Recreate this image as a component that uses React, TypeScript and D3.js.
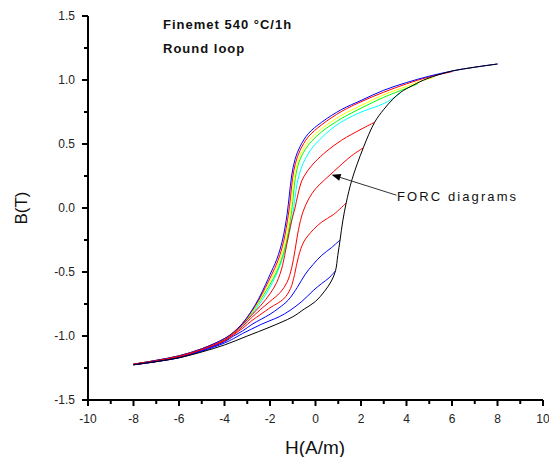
import React from 'react';
import * as d3 from 'd3';

type P = [number, number];

const xTicks = [-10, -8, -6, -4, -2, 0, 2, 4, 6, 8, 10];
const xMinor = [-9, -7, -5, -3, -1, 1, 3, 5, 7, 9];
const yTicks = [-1.5, -1.0, -0.5, 0.0, 0.5, 1.0, 1.5];
const yMinor = [-1.25, -0.75, -0.25, 0.25, 0.75, 1.25];

// descending major branch (outer)
const outerBlue: P[] = [[-8,-1.22],[-7,-1.19],[-6,-1.155],[-5,-1.10],[-4,-1.02],[-3.6,-0.97],[-3.2,-0.90],[-2.8,-0.80],[-2.5,-0.71],[-2.2,-0.60],[-2.0,-0.52],[-1.7,-0.40],[-1.45,-0.25],[-1.25,-0.05],[-1.15,0.1],[-1.05,0.25],[-0.9,0.38],[-0.68,0.48],[-0.32,0.58],[0.27,0.67],[1.15,0.77],[2,0.84],[3,0.92],[4,0.98],[5,1.03],[6,1.07],[7,1.10],[8,1.125]];
const curveRed6: P[] = [[-8,-1.22],[-7,-1.19],[-6,-1.155],[-5,-1.10],[-4,-1.02],[-3.6,-0.97],[-3.2,-0.90],[-2.8,-0.805],[-2.5,-0.72],[-2.2,-0.62],[-1.95,-0.53],[-1.65,-0.41],[-1.4,-0.26],[-1.2,-0.06],[-1.1,0.08],[-1.01,0.23],[-0.88,0.35],[-0.68,0.45],[-0.32,0.555],[0.27,0.65],[1.15,0.755],[2,0.83],[3,0.905],[4,0.97],[5,1.025],[6,1.065]];
const curveYellow: P[] = [[-8,-1.22],[-7,-1.19],[-6,-1.155],[-5,-1.10],[-4,-1.02],[-3.6,-0.97],[-3.2,-0.90],[-2.8,-0.815],[-2.5,-0.73],[-2.2,-0.64],[-1.9,-0.54],[-1.6,-0.42],[-1.35,-0.27],[-1.15,-0.08],[-1.05,0.06],[-0.97,0.2],[-0.86,0.31],[-0.68,0.41],[-0.32,0.52],[0.27,0.62],[1.15,0.725],[2,0.80],[3,0.885],[4,0.95],[4.6,0.99],[5.2,1.02]];
const curveGreen: P[] = [[-8,-1.22],[-7,-1.19],[-6,-1.155],[-5,-1.10],[-4,-1.025],[-3.6,-0.975],[-3.2,-0.905],[-2.8,-0.82],[-2.5,-0.74],[-2.2,-0.655],[-1.85,-0.55],[-1.55,-0.43],[-1.3,-0.28],[-1.1,-0.09],[-1.0,0.05],[-0.93,0.18],[-0.83,0.29],[-0.68,0.38],[-0.32,0.49],[0.27,0.595],[1.15,0.70],[2,0.78],[3,0.865],[4,0.935],[4.5,0.97]];
const curveCyan: P[] = [[-8,-1.22],[-7,-1.195],[-6,-1.16],[-5,-1.105],[-4,-1.03],[-3.6,-0.98],[-3.2,-0.915],[-2.8,-0.835],[-2.5,-0.76],[-2.2,-0.68],[-1.8,-0.55],[-1.5,-0.42],[-1.25,-0.27],[-1.1,-0.15],[-1.0,-0.05],[-0.9,0.08],[-0.8,0.2],[-0.61,0.32],[-0.3,0.43],[0,0.5],[0.86,0.64],[1.88,0.74],[3.05,0.82],[3.75,0.9]];
const curveRed26: P[] = [[-8,-1.22],[-7,-1.195],[-6,-1.16],[-5,-1.105],[-4,-1.03],[-3.6,-0.975],[-3.2,-0.91],[-2.8,-0.835],[-2.4,-0.76],[-2.0,-0.67],[-1.7,-0.58],[-1.45,-0.45],[-1.27,-0.29],[-1.05,-0.1],[-0.9,0.0],[-0.78,0.1],[-0.61,0.21],[-0.35,0.29],[-0.02,0.36],[0.5,0.445],[1.15,0.53],[2.0,0.615],[2.6,0.67]];
const curveRed21: P[] = [[-8,-1.22],[-7,-1.195],[-6,-1.16],[-5,-1.11],[-4,-1.035],[-3.6,-0.985],[-3.2,-0.925],[-2.8,-0.855],[-2.4,-0.79],[-2.0,-0.73],[-1.55,-0.66],[-1.25,-0.58],[-1.05,-0.47],[-0.9,-0.33],[-0.75,-0.17],[-0.55,-0.03],[-0.3,0.07],[0.0,0.15],[0.4,0.22],[0.8,0.285],[1.2,0.35],[1.6,0.41],[2.1,0.47]];
const curveRed13: P[] = [[-8,-1.225],[-7,-1.2],[-6,-1.165],[-5,-1.11],[-4,-1.04],[-3.6,-0.99],[-3.2,-0.94],[-2.8,-0.88],[-2.4,-0.83],[-2.0,-0.78],[-1.4,-0.71],[-1.1,-0.63],[-0.92,-0.52],[-0.75,-0.38],[-0.5,-0.26],[-0.1,-0.17],[0.27,-0.11],[0.8,-0.05],[1.35,0.04]];
const curveBlue11: P[] = [[-8,-1.225],[-7,-1.2],[-6,-1.17],[-5,-1.115],[-4,-1.045],[-3.6,-1.0],[-3.2,-0.96],[-2.8,-0.91],[-2.4,-0.87],[-2.0,-0.83],[-1.6,-0.78],[-1.2,-0.72],[-0.8,-0.62],[-0.46,-0.52],[-0.1,-0.44],[0.27,-0.37],[0.7,-0.31],[1.08,-0.25]];
const curveBlue09: P[] = [[-8,-1.225],[-7,-1.2],[-6,-1.17],[-5,-1.12],[-4,-1.055],[-3.6,-1.02],[-3.2,-0.98],[-2.8,-0.945],[-2.4,-0.91],[-2.0,-0.88],[-1.6,-0.85],[-1.12,-0.8],[-0.6,-0.73],[-0.1,-0.645],[0.27,-0.59],[0.6,-0.545],[0.88,-0.49]];
// ascending major branch
const ascBlack: P[] = [[-8,-1.225],[-7,-1.2],[-6,-1.17],[-5,-1.125],[-4,-1.07],[-3,-1.0],[-2,-0.93],[-1,-0.85],[-0.5,-0.79],[0,-0.73],[0.4,-0.65],[0.7,-0.57],[0.88,-0.49],[0.98,-0.37],[1.08,-0.25],[1.2,-0.1],[1.35,0.04],[1.6,0.22],[2.1,0.47],[2.6,0.67],[3.0,0.77],[3.4,0.85],[3.75,0.905],[4.3,0.96],[4.9,1.01],[6,1.07],[7,1.10],[8,1.125]];

const series = [
  { data: curveCyan, color: '#00ffff' },
  { data: curveGreen, color: '#00ff00' },
  { data: curveYellow, color: '#ffff00' },
  { data: curveRed6, color: '#ff0000' },
  { data: outerBlue, color: '#0000ff' },
  { data: curveRed26, color: '#ff0000' },
  { data: curveRed21, color: '#ff0000' },
  { data: curveRed13, color: '#ff0000' },
  { data: curveBlue11, color: '#0000ff' },
  { data: curveBlue09, color: '#0000ff' },
  { data: ascBlack, color: '#000000' },
];

const arrowTip: P = [0.71, 0.26];
const arrowTail: P = [3.56, 0.1];

export default function App() {
  const x = d3.scaleLinear().domain([-10, 10]).range([88, 543]);
  const y = d3.scaleLinear().domain([-1.5, 1.5]).range([400, 16]);
  const line = d3.line<P>().x(d => x(d[0])).y(d => y(d[1])).curve(d3.curveCatmullRom.alpha(0.5));
  const font = "'Liberation Sans', Arial, sans-serif";
  const tx = x(arrowTip[0]), ty = y(arrowTip[1]);
  const sx = x(arrowTail[0]), sy = y(arrowTail[1]);
  const ang = Math.atan2(ty - sy, tx - sx);
  const al = 9, aw = 3.5;
  const bx = tx - al * Math.cos(ang), by = ty - al * Math.sin(ang);
  const head = `M${tx},${ty}L${bx + aw * Math.sin(ang)},${by - aw * Math.cos(ang)}L${bx - aw * Math.sin(ang)},${by + aw * Math.cos(ang)}Z`;
  return (
    <svg width={549} height={457} style={{ position: 'absolute', left: 0, top: 0, background: '#fff' }} fontFamily={font}>
      <rect width={549} height={457} fill="#fff" />
      {series.map((s, i) => (
        <path key={i} d={line(s.data) || ''} fill="none" stroke={s.color} strokeWidth={1} />
      ))}
      {/* axes */}
      <line x1={x(-10)} x2={x(10)} y1={y(-1.5)} y2={y(-1.5)} stroke="#000" strokeWidth={2} />
      <line x1={x(-10)} x2={x(-10)} y1={y(-1.5) + 1} y2={y(1.5)} stroke="#000" strokeWidth={2} />
      {xTicks.map(t => (
        <g key={'xt' + t}>
          <line x1={x(t)} x2={x(t)} y1={y(-1.5)} y2={y(-1.5) + 6} stroke="#000" strokeWidth={2} />
          <text x={x(t)} y={423} fontSize={12} textAnchor="middle" fill="#222">{t}</text>
        </g>
      ))}
      {xMinor.map(t => (
        <line key={'xm' + t} x1={x(t)} x2={x(t)} y1={y(-1.5)} y2={y(-1.5) + 4} stroke="#000" strokeWidth={2} />
      ))}
      {yTicks.map(t => (
        <g key={'yt' + t}>
          <line x1={x(-10) - 6} x2={x(-10)} y1={y(t)} y2={y(t)} stroke="#000" strokeWidth={2} />
          <text x={75} y={y(t) + 4.3} fontSize={12} textAnchor="end" fill="#222">{t.toFixed(1)}</text>
        </g>
      ))}
      {yMinor.map(t => (
        <line key={'ym' + t} x1={x(-10) - 4} x2={x(-10)} y1={y(t)} y2={y(t)} stroke="#000" strokeWidth={2} />
      ))}
      <text x={315} y={454} fontSize={19} textAnchor="middle" fill="#111">H(A/m)</text>
      <text transform="translate(27,208) rotate(-90)" fontSize={17} textAnchor="middle" fill="#111">B(T)</text>
      <text x={163} y={29} fontSize={13} fontWeight="bold" letterSpacing={1} fill="#111">Finemet 540 °C/1h</text>
      <text x={163} y={53} fontSize={13} fontWeight="bold" letterSpacing={1} fill="#111">Round loop</text>
      <line x1={sx} y1={sy} x2={bx} y2={by} stroke="#333" strokeWidth={1} />
      <path d={head} fill="#000" />
      <text x={397} y={201} fontSize={13} letterSpacing={2.1} fill="#111">FORC diagrams</text>
    </svg>
  );
}
